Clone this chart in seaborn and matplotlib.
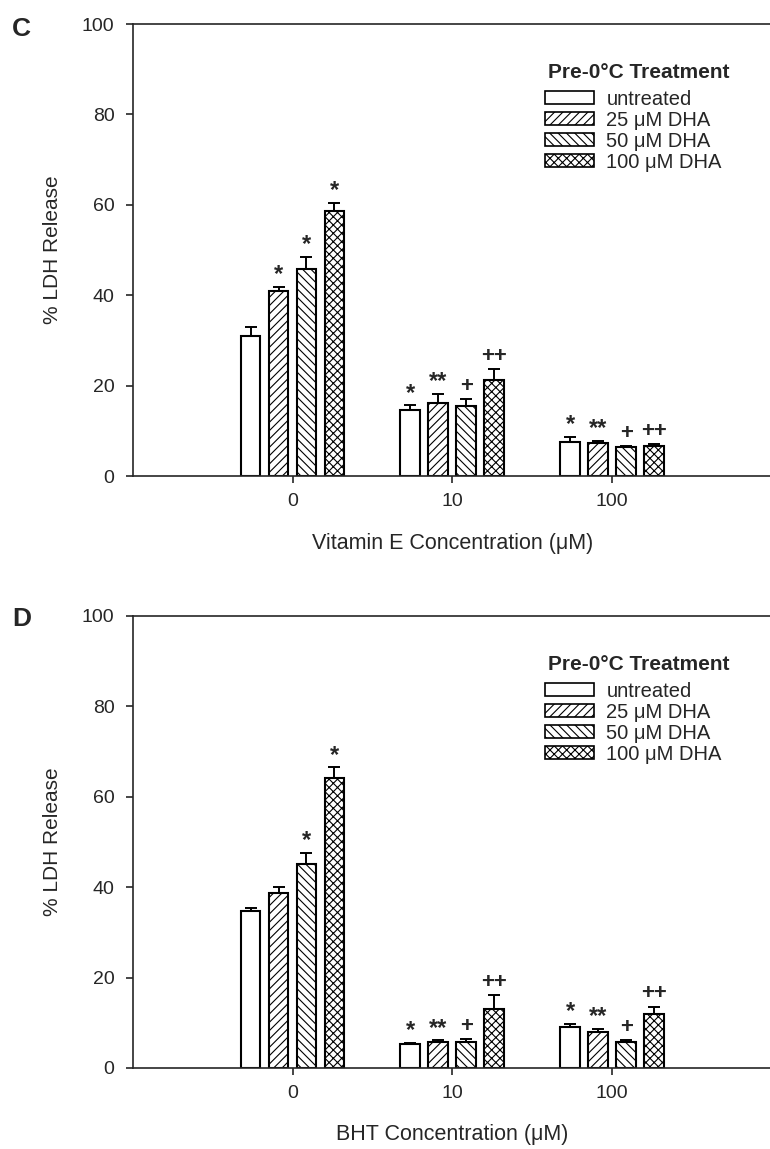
import pandas as pd
import matplotlib
matplotlib.use("Agg")
import matplotlib.pyplot as plt
from matplotlib.patches import Patch
import seaborn as sns

# values (% LDH release, mean and upper error)
conc = ["0", "10", "100"]
treatments = ["untreated", "25 μM DHA", "50 μM DHA", "100 μM DHA"]
hatches = ["", "////", "\\\\\\\\", "xxxx"]

vite_untreated = [31.0, 14.6, 7.6]
vite_25 = [40.9, 16.1, 7.4]
vite_50 = [45.7, 15.5, 6.4]
vite_100 = [58.6, 21.3, 6.7]
vite_err_untreated = [1.9, 1.1, 1.1]
vite_err_25 = [1.0, 2.1, 0.4]
vite_err_50 = [2.8, 1.6, 0.3]
vite_err_100 = [1.9, 2.4, 0.3]
vite_sig = [["", "*", "*"], ["*", "**", "**"], ["*", "+", "+"], ["*", "++", "++"]]

bht_untreated = [34.8, 5.2, 9.1]
bht_25 = [38.8, 5.8, 7.9]
bht_50 = [45.2, 5.8, 5.8]
bht_100 = [64.2, 13.1, 11.9]
bht_err_untreated = [0.6, 0.4, 0.7]
bht_err_25 = [1.3, 0.3, 0.8]
bht_err_50 = [2.4, 0.6, 0.3]
bht_err_100 = [2.4, 3.0, 1.7]
bht_sig = [["", "*", "*"], ["", "**", "**"], ["*", "+", "+"], ["*", "++", "++"]]

sns.set_style("ticks")
plt.rcParams["font.family"] = ["Liberation Sans", "DejaVu Sans"]
plt.rcParams["hatch.linewidth"] = 0.8


def draw_panel(ax, means, errs, sigs, xlabel, letter, letter_y):
    rows = []
    for t, vals in zip(treatments, means):
        for c, v in zip(conc, vals):
            rows.append({"conc": c, "treatment": t, "ldh": v})
    df = pd.DataFrame(rows)

    sns.barplot(data=df, x="conc", y="ldh", hue="treatment", order=conc,
                hue_order=treatments, palette=["white"] * 4, edgecolor="black",
                linewidth=1.5, width=0.7, gap=0.29, errorbar=None,
                legend=False, ax=ax)

    bar_groups = list(ax.containers)
    for i, cont in enumerate(bar_groups):
        xs, ys = [], []
        for bar in cont:
            bar.set_hatch(hatches[i])
            xs.append(bar.get_x() + bar.get_width() / 2)
            ys.append(bar.get_height())
        ax.errorbar(xs, ys, yerr=[[0] * len(ys), errs[i]], fmt="none",
                    ecolor="black", elinewidth=1.4, capsize=4, capthick=1.4)
        for x, y, e, s in zip(xs, ys, errs[i], sigs[i]):
            if not s:
                continue
            if "*" in s:
                ax.text(x, y + e + 1.2, s, ha="center", va="baseline",
                        fontsize=17, fontweight="bold")
            else:
                ax.text(x, y + e + 1.6, s, ha="center", va="baseline",
                        fontsize=16, fontweight="bold")

    ax.set_xlim(-1, 3)
    ax.set_ylim(0, 100)
    ax.set_yticks([0, 20, 40, 60, 80, 100])
    ax.spines["right"].set_visible(False)
    for sp in ["left", "bottom", "top"]:
        ax.spines[sp].set_linewidth(1.2)
    ax.tick_params(axis="both", labelsize=14, length=5, width=1.2, direction="out")
    ax.tick_params(axis="y", pad=8)
    ax.tick_params(axis="x", pad=7)
    ax.set_xlabel(xlabel, fontsize=15.5)
    ax.set_ylabel("% LDH Release", fontsize=15)
    ax.xaxis.set_label_coords(0.5, -0.125)
    ax.yaxis.set_label_coords(-0.11, 0.5)

    ax.text(0.65, 0.892, "Pre-0°C Treatment", transform=ax.transAxes,
            fontsize=15, fontweight="bold", va="center", ha="left")
    handles = [Patch(facecolor="white", edgecolor="black", hatch=h,
                     linewidth=1.2, label=t) for h, t in zip(hatches, treatments)]
    ax.legend(handles=handles, loc="upper left", bbox_to_anchor=(0.645, 0.855),
              frameon=False, fontsize=14.5, handlelength=2.44, handleheight=0.6,
              handletextpad=0.6, labelspacing=0.1, borderpad=0,
              borderaxespad=0)

    ax.figure.text(12 / 770, letter_y, letter, fontsize=19, fontweight="bold",
                   va="center", ha="left")


fig = plt.figure(figsize=(7.7, 11.49), dpi=100)
ax1 = fig.add_axes([0.1723, 0.5857, 0.8303, 0.3934])
ax2 = fig.add_axes([0.1723, 0.0705, 0.8303, 0.3934])

draw_panel(ax1,
           [vite_untreated, vite_25, vite_50, vite_100],
           [vite_err_untreated, vite_err_25, vite_err_50, vite_err_100],
           vite_sig, "Vitamin E Concentration (μM)", "C", 1 - 29 / 1149)
draw_panel(ax2,
           [bht_untreated, bht_25, bht_50, bht_100],
           [bht_err_untreated, bht_err_25, bht_err_50, bht_err_100],
           bht_sig, "BHT Concentration (μM)", "D", 1 - 619 / 1149)

fig.savefig("out.png", dpi=100)
